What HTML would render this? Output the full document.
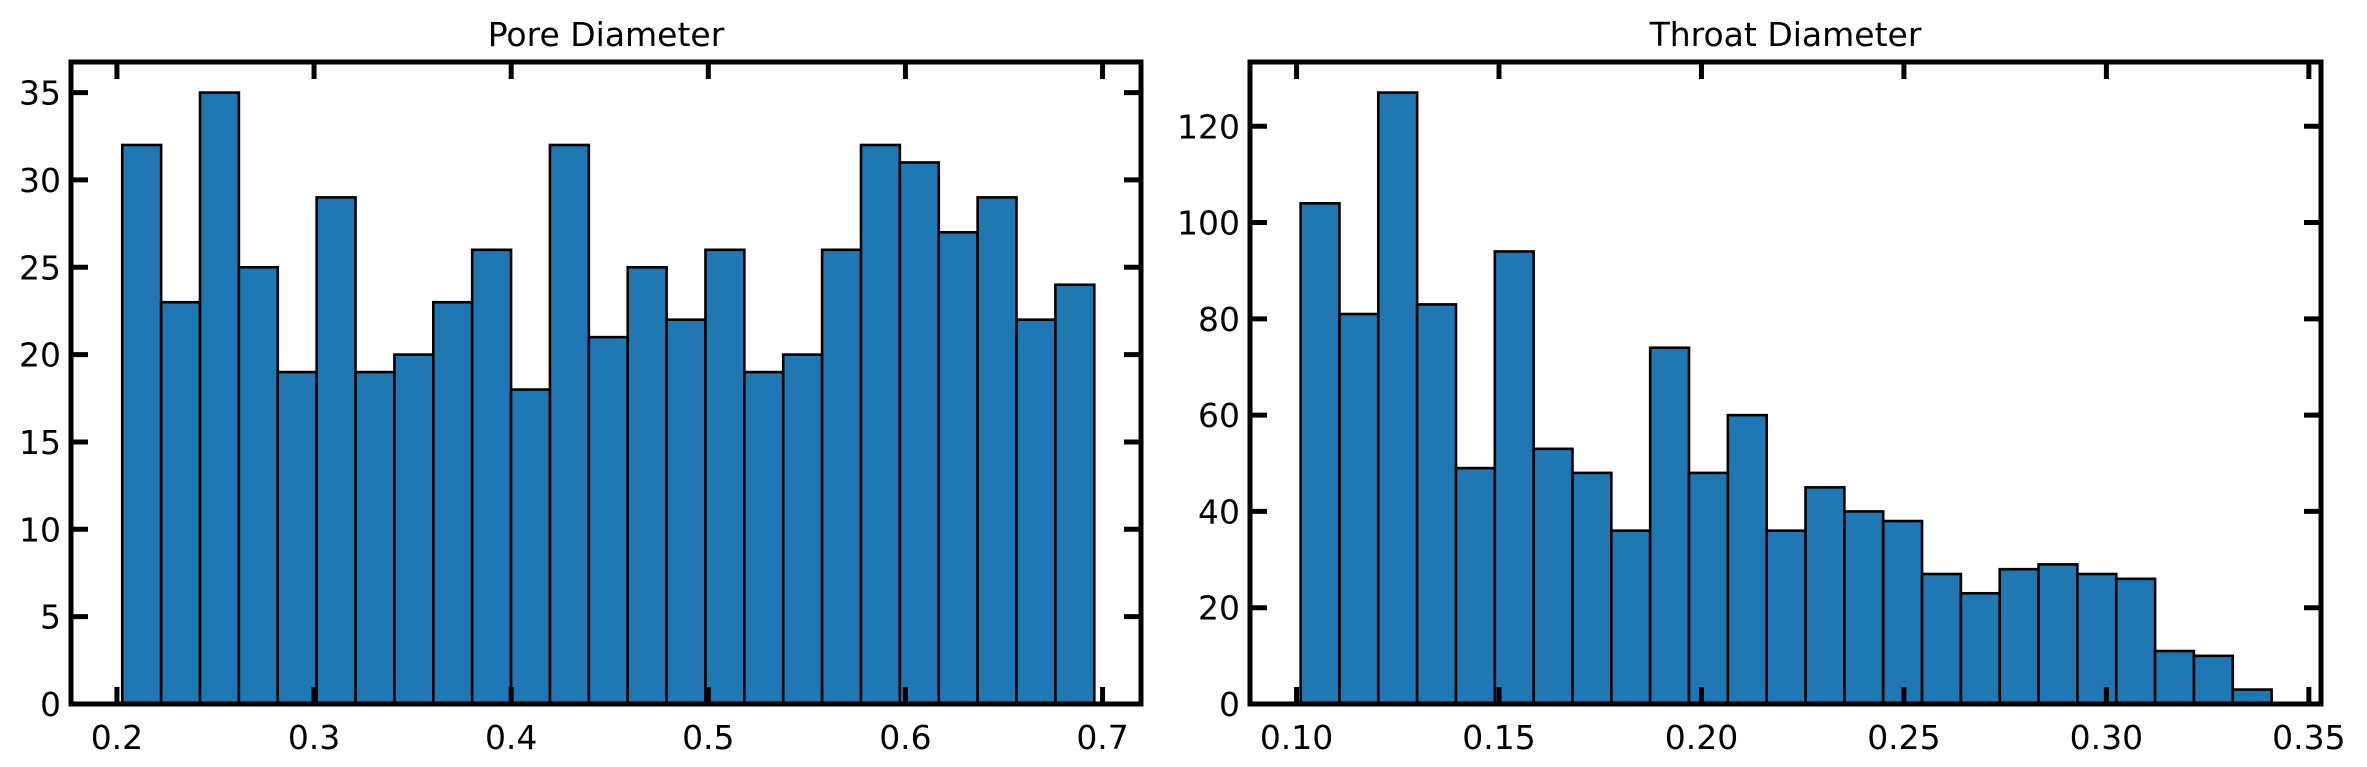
<!DOCTYPE html>
<html><head><meta charset="utf-8"><style>
html,body{margin:0;padding:0;background:#fff;}
svg{display:block;font-family:"DejaVu Sans","Liberation Sans",sans-serif;}
</style></head><body>
<svg id="chart" width="2367" height="767" viewBox="0 0 2367 767"></svg>
<script>
const poreCounts = [32,23,35,25,19,29,19,20,23,26,18,32,21,25,22,26,19,20,26,32,31,27,29,22,24];
const poreBinStart = 0.2027, poreBinEnd = 0.6958;
const poreXTicks = [0.2,0.3,0.4,0.5,0.6,0.7];
const poreXTickLabels = ["0.2","0.3","0.4","0.5","0.6","0.7"];
const poreYTicks = [0,5,10,15,20,25,30,35];
const throatCounts = [104,81,127,83,49,94,53,48,36,74,48,60,36,45,40,38,27,23,28,29,27,26,11,10,3];
const throatBinStart = 0.1010, throatBinEnd = 0.3408;
const throatXTicks = [0.10,0.15,0.20,0.25,0.30,0.35];
const throatXTickLabels = ["0.10","0.15","0.20","0.25","0.30","0.35"];
const throatYTicks = [0,20,40,60,80,100,120];

const NS="http://www.w3.org/2000/svg";
const svg=document.getElementById('chart');
function mk(tag,attrs,parent){const e=document.createElementNS(NS,tag);for(const k in attrs)e.setAttribute(k,attrs[k]);(parent||svg).appendChild(e);return e;}

function panel(name,title,box,xlim,counts,b0,b1,xt,xtl,yt){
  const g=mk('g',{});
  
  
  const ymax=Math.max(...counts)*1.05;
  const sx=v=>box.l+(v-xlim[0])/(xlim[1]-xlim[0])*(box.r-box.l);
  const sy=v=>box.b-v/ymax*(box.b-box.t);
  const w=(b1-b0)/counts.length;
  counts.forEach((c,i)=>{
    const x0=sx(b0+i*w), x1=sx(b0+(i+1)*w);
    const r=mk('rect',{x:x0,y:sy(c),width:x1-x0,height:sy(0)-sy(c),fill:'#1f77b4',stroke:'#000','stroke-width':2.6},g);
    
    
  });
  xt.forEach((v,i)=>{
    const x=sx(v);
    mk('line',{x1:x,x2:x,y1:box.b,y2:box.b-17,stroke:'#000','stroke-width':5},g);
    mk('line',{x1:x,x2:x,y1:box.t,y2:box.t+17,stroke:'#000','stroke-width':5},g);
    const t=mk('text',{x:x,y:box.b+45,'text-anchor':'middle','font-size':33},g);
    t.textContent=xtl[i];
    
    
  });
  yt.forEach(v=>{
    const y=sy(v);
    mk('line',{x1:box.l,x2:box.l+17,y1:y,y2:y,stroke:'#000','stroke-width':5},g);
    mk('line',{x1:box.r,x2:box.r-17,y1:y,y2:y,stroke:'#000','stroke-width':5},g);
    const t=mk('text',{x:box.l-10,y:y+12,'text-anchor':'end','font-size':33},g);
    t.textContent=String(v);
    
    
  });
  const f=mk('rect',{x:box.l,y:box.t,width:box.r-box.l,height:box.b-box.t,fill:'none',stroke:'#000','stroke-width':5},g);
  
  
  const tt=mk('text',{x:(box.l+box.r)/2,y:46,'text-anchor':'middle','font-size':33},g);
  tt.textContent=title;
  
  
}
panel('pore-diameter-histogram','Pore Diameter',{l:71,r:1141,t:62,b:704},[0.1767,0.7195],poreCounts,poreBinStart,poreBinEnd,poreXTicks,poreXTickLabels,poreYTicks);
panel('throat-diameter-histogram','Throat Diameter',{l:1250,r:2321,t:62,b:704},[0.0885,0.3530],throatCounts,throatBinStart,throatBinEnd,throatXTicks,throatXTickLabels,throatYTicks);
</script>
</body></html>
